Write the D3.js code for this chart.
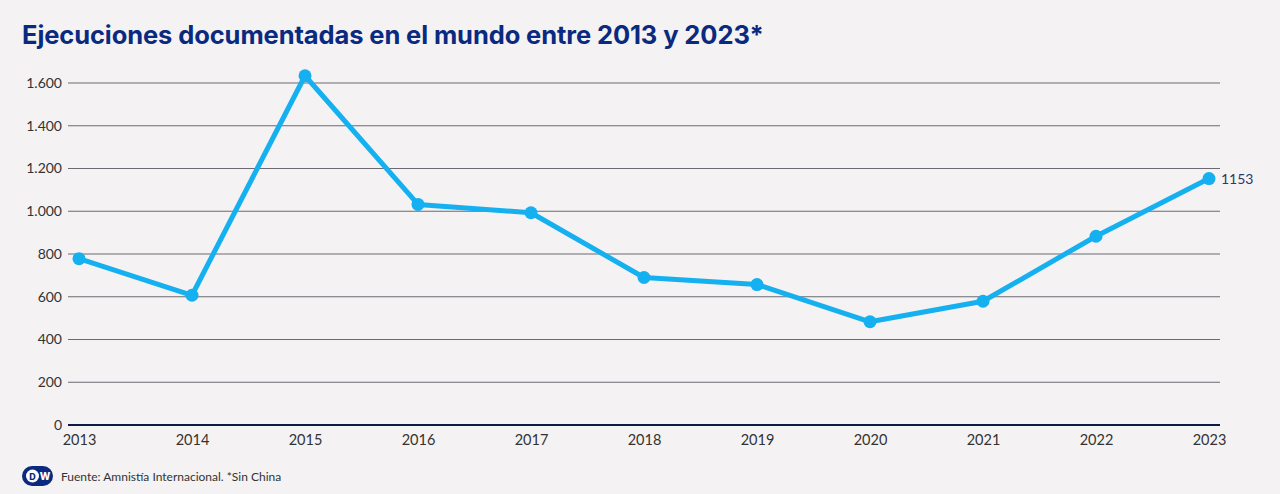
<!DOCTYPE html>
<html><head><meta charset="utf-8">
<script src="https://cdn.jsdelivr.net/npm/d3@7"></script>
<style>
html,body{margin:0;padding:0;background:#f4f2f3;}
svg{display:block;}
</style></head>
<body>
<svg id="chart" width="1280" height="494"></svg>
<script>
const years = [2013,2014,2015,2016,2017,2018,2019,2020,2021,2022,2023];
const executions = [778,607,1634,1032,993,690,657,483,579,883,1153];
const yTicks = [0,200,400,600,800,1000,1200,1400,1600];
const title = "Ejecuciones documentadas en el mundo entre 2013 y 2023*";
const source = "Fuente: Amnistía Internacional. *Sin China";

const svg = d3.select("#chart");
const W = 1280, H = 494;
svg.append("rect").attr("width",W).attr("height",H).attr("fill","#f4f2f3");

const x = d3.scalePoint().domain(years).range([79,1209]);
const y = d3.scaleLinear().domain([0,1600]).range([425,83]);
const fmt = d => d3.format(",")(d).replace(/,/g,".");

svg.append("text").attr("x",22).attr("y",44).text(title)
  .attr("font-family","Inter, 'Noto Sans', sans-serif").attr("font-weight",700)
  .attr("font-size",25.5).attr("fill","#0a2a80").attr("letter-spacing","-0.1");

const yAxis = d3.axisLeft(y).tickValues(yTicks).tickSize(0).tickPadding(0).tickFormat(fmt);
const gy = svg.append("g").attr("transform","translate(62,0)").call(yAxis);
gy.select(".domain").remove();
gy.selectAll("text").attr("font-family","Lato, 'Noto Sans', sans-serif").attr("font-size",14).attr("fill","#333");
svg.append("g").selectAll("line").data(yTicks).join("line")
  .attr("x1",68).attr("x2",1220).attr("y1",d=>y(d)).attr("y2",d=>y(d))
  .attr("stroke",d=>d===0?"#0b1a4a":"#6a6a72").attr("stroke-width",d=>d===0?2:1.1);

const xAxis = d3.axisBottom(x).tickSize(0).tickPadding(0);
const gx = svg.append("g").attr("transform","translate(0,445)").call(xAxis);
gx.select(".domain").remove();
gx.selectAll("text").attr("dy",0).attr("font-family","Lato, 'Noto Sans', sans-serif").attr("font-size",14.5).attr("fill","#333");

const line = d3.line().x((d,i)=>x(years[i])).y(d=>y(d));
svg.append("path").datum(executions).attr("d",line).attr("fill","none")
  .attr("stroke","#15b0f0").attr("stroke-width",5).attr("stroke-linejoin","round");
svg.append("g").selectAll("circle").data(executions).join("circle")
  .attr("cx",(d,i)=>x(years[i])).attr("cy",d=>y(d)).attr("r",6.5).attr("fill","#15b0f0");

const last = executions.length-1;
svg.append("text").attr("x",x(years[last])+12).attr("y",y(executions[last])+5)
  .text(executions[last]).attr("font-family","Lato, 'Noto Sans', sans-serif")
  .attr("font-size",14).attr("fill","#2a3a6a");

const logo = svg.append("g").attr("transform","translate(22,466)");
logo.append("rect").attr("width",31).attr("height",20).attr("rx",10).attr("fill","#0a2a80");
logo.append("circle").attr("cx",10.5).attr("cy",10).attr("r",6.5).attr("fill","#ffffff");
logo.append("text").attr("x",10.5).attr("y",13.5).attr("text-anchor","middle").text("D")
  .attr("font-family","Inter, sans-serif").attr("font-weight",800).attr("font-size",9).attr("fill","#0a2a80");
logo.append("text").attr("x",23).attr("y",14).attr("text-anchor","middle").text("W")
  .attr("font-family","Inter, sans-serif").attr("font-weight",800).attr("font-size",10).attr("fill","#ffffff");

svg.append("text").attr("x",61).attr("y",481).text(source)
  .attr("font-family","Lato, 'Noto Sans', sans-serif").attr("font-size",12).attr("fill","#333");
</script>
</body></html>
